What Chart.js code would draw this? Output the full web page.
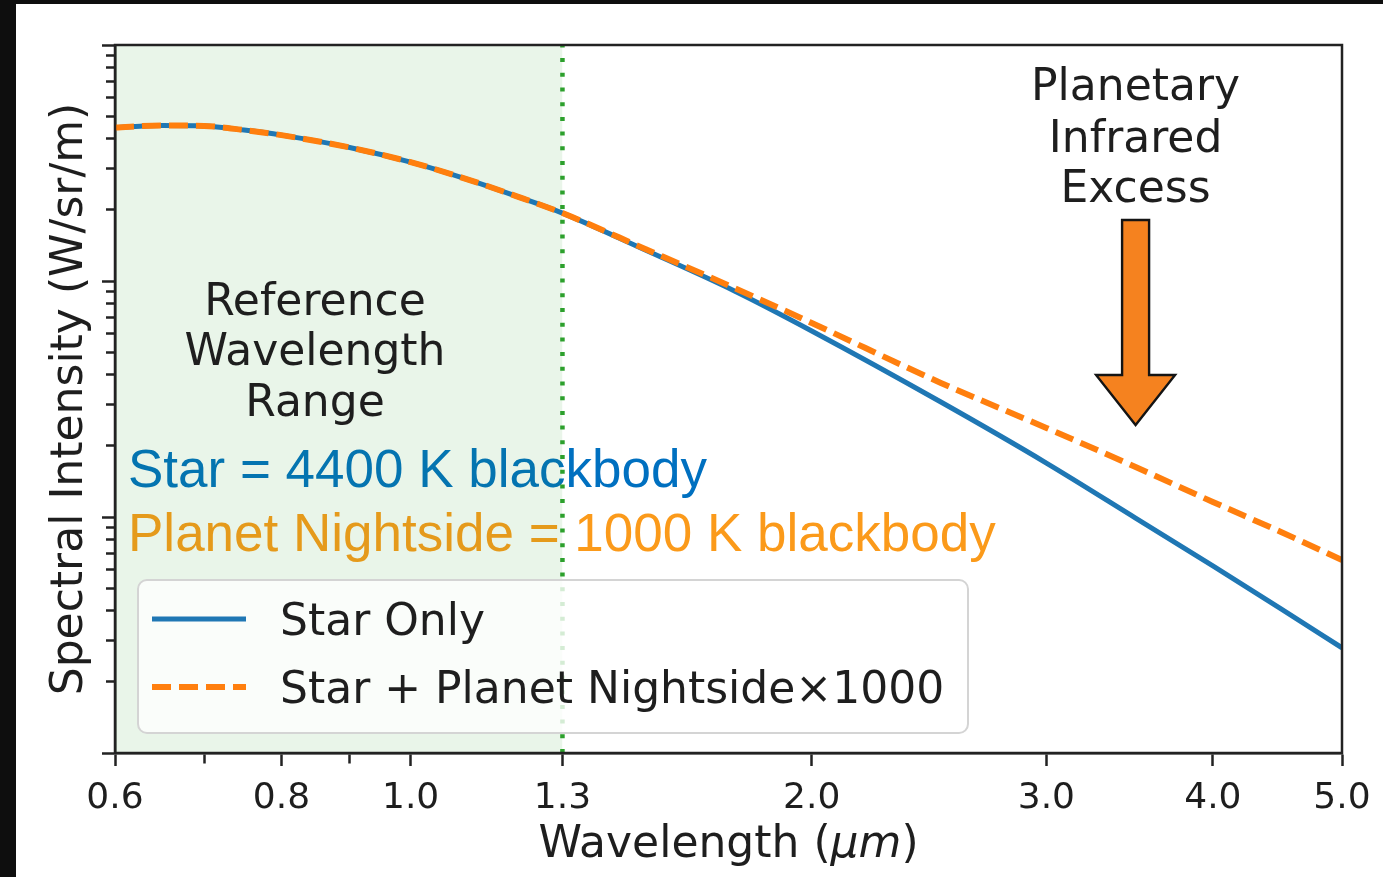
<!DOCTYPE html>
<html>
<head>
<meta charset="utf-8">
<script src="https://cdn.jsdelivr.net/npm/chart.js@4.4.1/dist/chart.umd.min.js"></script>
<style>
  html, body { margin: 0; padding: 0; width: 1383px; height: 877px; overflow: hidden; background: #0e0e0e; }
  #wrap { position: absolute; left: 16px; top: 4px; width: 1367px; height: 873px; background: #ffffff; }
  canvas { display: block; }
</style>
</head>
<body>
<div id="wrap"><canvas id="c" width="1367" height="873"></canvas></div>
<script>
// Wavelength grid (µm) and spectral intensity of each model (arbitrary log units)
const wavelengths    = [0.6, 0.65, 0.7, 0.75, 0.8, 0.9, 1.0, 1.1, 1.2, 1.3, 1.5, 1.75, 2.0, 2.5, 3.0, 3.5, 4.0, 4.5, 5.0];
const starOnly       = [4.47, 4.56, 4.54, 4.36, 4.15, 3.68, 3.19, 2.71, 2.29, 1.94, 1.353, 0.907, 0.614, 0.307, 0.1693, 0.0990, 0.0620, 0.0408, 0.0279];
const starPlusPlanet = [4.47, 4.56, 4.54, 4.36, 4.15, 3.68, 3.19, 2.71, 2.29, 1.94, 1.367, 0.934, 0.664, 0.370, 0.2384, 0.1629, 0.1158, 0.0864, 0.0657];

const seriesLabels = ['Star Only', 'Star + Planet Nightside\u00d71000'];

// Reference wavelength band (µm) and the wavelength marked by the arrow
const referenceBand = [0.6, 1.3];
const excessMarker  = 3.5;

// Axis ticks
const xTickValues = [0.6, 0.7, 0.8, 0.9, 1.0, 1.3, 2.0, 3.0, 4.0, 5.0];
const xTickLabels = ['0.6', '', '0.8', '', '1.0', '1.3', '2.0', '3.0', '4.0', '5.0'];
const yTickValues = [0.01, 0.02, 0.03, 0.04, 0.05, 0.06, 0.07, 0.08, 0.09,
                     0.1, 0.2, 0.3, 0.4, 0.5, 0.6, 0.7, 0.8, 0.9,
                     1, 2, 3, 4, 5, 6, 7, 8, 9, 10];
const yMajorTicks = [0.01, 0.1, 1, 10];
const xRange = [0.6, 5.0];
const yRange = [0.01, 10];

const INK = '#1e1e1e';
const FONT = "'DejaVu Sans', sans-serif";

const toPoints = (xs, ys) => xs.map((x, i) => ({ x: x, y: ys[i] }));

const decor = {
  id: 'decor',
  beforeDatasetsDraw(chart) {
    const ctx = chart.ctx, ca = chart.chartArea;
    ctx.save();
    ctx.font = "53px 'Liberation Sans', Arial, sans-serif";
    ctx.textAlign = 'left';
    ctx.textBaseline = 'alphabetic';
    ctx.fillStyle = '#0070C0';
    ctx.fillText('Star = 4400 K blackbody', ca.left + 13, ca.top + 442);
    ctx.fillStyle = '#FB9A1A';
    ctx.fillText('Planet Nightside = 1000 K blackbody', ca.left + 13, ca.top + 506);
    ctx.restore();
  },
  afterDatasetsDraw(chart) {
    const ctx = chart.ctx, ca = chart.chartArea, xs = chart.scales.x;
    ctx.save();

    // frame around the plotting area
    ctx.strokeStyle = '#222222';
    ctx.lineWidth = 2.5;
    ctx.strokeRect(ca.left, ca.top, ca.right - ca.left, ca.bottom - ca.top);

    // text notes
    ctx.fillStyle = INK;
    ctx.font = '44px ' + FONT;
    ctx.textAlign = 'center';
    ctx.textBaseline = 'alphabetic';
    const refX = ca.left + 200;
    ctx.fillText('Reference', refX, ca.top + 270);
    ctx.fillText('Wavelength', refX, ca.top + 320);
    ctx.fillText('Range', refX, ca.top + 371);

    const ax = xs.getPixelForValue(excessMarker);
    ctx.fillText('Planetary', ax, ca.top + 55);
    ctx.fillText('Infrared', ax, ca.top + 107);
    ctx.fillText('Excess', ax, ca.top + 157);

    // arrow pointing at the infrared excess
    const aTop = ca.top + 175, aBase = ca.top + 330, aTip = ca.top + 380;
    const sw = 13.5, hw = 39.5;
    ctx.beginPath();
    ctx.moveTo(ax - sw, aTop);
    ctx.lineTo(ax + sw, aTop);
    ctx.lineTo(ax + sw, aBase);
    ctx.lineTo(ax + hw, aBase);
    ctx.lineTo(ax, aTip);
    ctx.lineTo(ax - hw, aBase);
    ctx.lineTo(ax - sw, aBase);
    ctx.closePath();
    ctx.fillStyle = '#F5821F';
    ctx.fill();
    ctx.lineWidth = 2.4;
    ctx.lineJoin = 'miter';
    ctx.strokeStyle = '#141414';
    ctx.stroke();

    // legend box
    const lg = { x: ca.left + 23, y: ca.bottom - 173, w: 830, h: 153, r: 9 };
    ctx.beginPath();
    ctx.roundRect(lg.x, lg.y, lg.w, lg.h, lg.r);
    ctx.fillStyle = 'rgba(255,255,255,0.8)';
    ctx.fill();
    ctx.lineWidth = 2;
    ctx.strokeStyle = '#d4d4d4';
    ctx.stroke();

    const rows = [chart.data.datasets[0], chart.data.datasets[1]];
    rows.forEach((ds, i) => {
      const cy = lg.y + 39 + i * 68;
      ctx.save();
      ctx.strokeStyle = ds.borderColor;
      ctx.lineWidth = ds.borderWidth;
      ctx.setLineDash(ds.borderDash || []);
      ctx.lineCap = 'butt';
      ctx.beginPath();
      ctx.moveTo(lg.x + 14, cy);
      ctx.lineTo(lg.x + 108, cy);
      ctx.stroke();
      ctx.restore();
      ctx.fillStyle = INK;
      ctx.font = '44px ' + FONT;
      ctx.textAlign = 'left';
      ctx.textBaseline = 'alphabetic';
      ctx.fillText(ds.label, lg.x + 142, cy + 16);
    });

    // x-axis title with italic unit
    const cx = (ca.left + ca.right) / 2;
    const ty = ca.bottom + 104;
    ctx.font = '44px ' + FONT;
    const p1 = 'Wavelength (', p2 = '\u03bcm', p3 = ')';
    const w1 = ctx.measureText(p1).width, w3 = ctx.measureText(p3).width;
    ctx.font = 'italic 44px ' + FONT;
    const w2 = ctx.measureText(p2).width;
    const x0 = cx - (w1 + w2 + w3) / 2;
    ctx.textAlign = 'left';
    ctx.fillStyle = INK;
    ctx.font = '44px ' + FONT;
    ctx.fillText(p1, x0, ty);
    ctx.font = 'italic 44px ' + FONT;
    ctx.fillText(p2, x0 + w1, ty);
    ctx.font = '44px ' + FONT;
    ctx.fillText(p3, x0 + w1 + w2, ty);

    ctx.restore();
  }
};

new Chart(document.getElementById('c'), {
  type: 'line',
  data: {
    datasets: [
      {
        label: seriesLabels[0],
        data: toPoints(wavelengths, starOnly),
        borderColor: '#1f77b4',
        borderWidth: 5,
        pointRadius: 0,
        cubicInterpolationMode: 'monotone',
        order: 1
      },
      {
        label: seriesLabels[1],
        data: toPoints(wavelengths, starPlusPlanet),
        borderColor: '#ff7f0e',
        borderWidth: 6,
        borderDash: [19, 8],
        pointRadius: 0,
        cubicInterpolationMode: 'monotone',
        order: 0
      },
      {
        label: 'reference edge',
        data: [{ x: referenceBand[1], y: yRange[0] }, { x: referenceBand[1], y: yRange[1] }],
        borderColor: '#2ca02c',
        borderWidth: 4.5,
        borderDash: [4, 10.7],
        borderCapStyle: 'butt',
        pointRadius: 0,
        order: 2
      },
      {
        label: 'reference band',
        data: [{ x: referenceBand[0], y: yRange[1] }, { x: referenceBand[1], y: yRange[1] }],
        borderWidth: 0,
        borderColor: 'rgba(0,0,0,0)',
        backgroundColor: 'rgba(44,160,44,0.1)',
        fill: 'start',
        pointRadius: 0,
        order: 3
      }
    ]
  },
  options: {
    responsive: false,
    devicePixelRatio: 1,
    animation: false,
    events: [],
    layout: { padding: { left: 0, top: 41, right: 41, bottom: 0 } },
    plugins: { legend: { display: false }, tooltip: { enabled: false } },
    scales: {
      x: {
        type: 'logarithmic',
        position: 'bottom',
        min: xRange[0],
        max: xRange[1],
        afterBuildTicks: (s) => { s.ticks = xTickValues.map(v => ({ value: v, major: xTickLabels[xTickValues.indexOf(v)] !== '' })); },
        afterFit: (s) => { s.height = 124; },
        ticks: {
          autoSkip: false,
          maxRotation: 0,
          padding: 11,
          color: INK,
          font: { family: FONT, size: 36 },
          callback: (v) => { const i = xTickValues.indexOf(v); return i >= 0 ? xTickLabels[i] : ''; }
        },
        grid: {
          drawOnChartArea: false,
          tickLength: 13,
          tickWidth: 2.5,
          tickColor: '#222222',
          tickBorderDash: (c) => (c.tick && xTickLabels[xTickValues.indexOf(c.tick.value)] === '') ? [9, 100] : []
        },
        border: { color: '#222222', width: 2.5 },
        title: { display: false }
      },
      y: {
        type: 'logarithmic',
        position: 'left',
        min: yRange[0],
        max: yRange[1],
        afterBuildTicks: (s) => { s.ticks = yTickValues.map(v => ({ value: v, major: yMajorTicks.includes(v) })); },
        afterFit: (s) => { s.width = 99; },
        ticks: { display: false },
        grid: {
          drawOnChartArea: false,
          tickLength: 13,
          tickWidth: 2.5,
          tickColor: '#222222',
          tickBorderDash: (c) => (c.tick && !yMajorTicks.includes(c.tick.value)) ? [0, 4, 9, 100] : []
        },
        border: { color: '#222222', width: 2.5 },
        title: {
          display: true,
          text: 'Spectral Intensity (W/sr/m)',
          color: INK,
          font: { family: FONT, size: 44 },
          padding: { top: 28, bottom: 0 }
        }
      }
    }
  },
  plugins: [decor]
});
</script>
</body>
</html>
